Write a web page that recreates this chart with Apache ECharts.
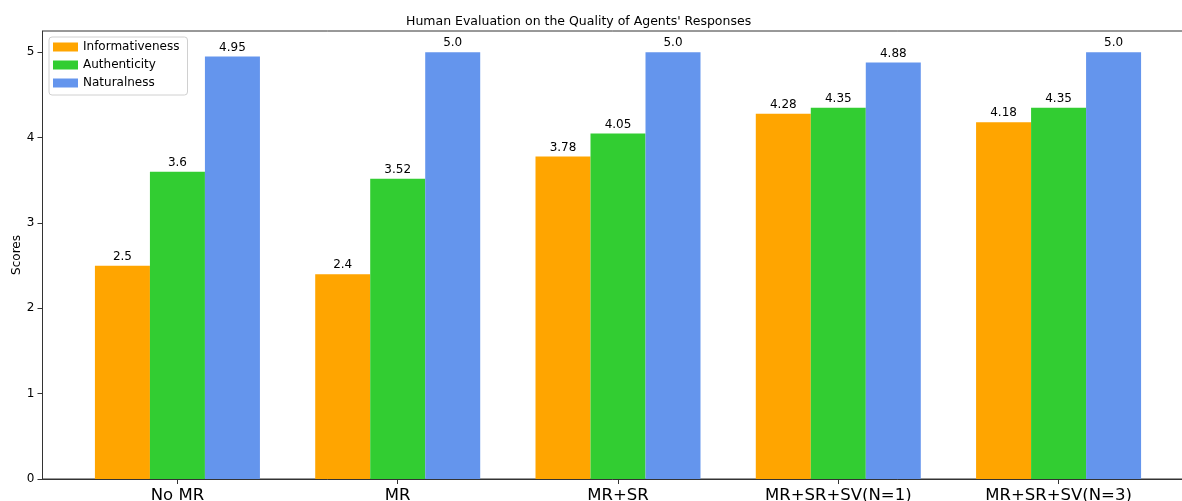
<!DOCTYPE html>
<html>
<head>
<meta charset="utf-8">
<script src="https://cdn.jsdelivr.net/npm/echarts@6/dist/echarts.min.js"></script>
<style>
  html, body { margin: 0; padding: 0; background: #fff; }
  #main { width: 1182px; height: 501px; }
</style>
</head>
<body>
<div id="main"></div>
<script>
// data
var categories = ['No MR', 'MR', 'MR+SR', 'MR+SR+SV(N=1)', 'MR+SR+SV(N=3)'];
var informativeness = [2.5, 2.4, 3.78, 4.28, 4.18];
var authenticity = [3.6, 3.52, 4.05, 4.35, 4.35];
var naturalness = [4.95, 5.0, 5.0, 4.88, 5.0];
var yTicks = [0, 1, 2, 3, 4, 5];

var chart = echarts.init(document.getElementById('main'));
var font = 'DejaVu Sans';

// python-style number print (5.0 instead of 5)
var fmt = function (v) {
  return Number.isInteger(v) ? v.toFixed(1) : String(v);
};

var makeSeries = function (name, values, color) {
  return {
    name: name,
    type: 'bar',
    barWidth: 55,
    barGap: '0%',
    itemStyle: { color: color },
    label: {
      show: true,
      position: 'top',
      distance: 3,
      color: '#000',
      fontFamily: font,
      fontSize: 12,
      formatter: function (p) { return fmt(p.value[1]); }
    },
    data: values.map(function (v, i) { return [i, v]; })
  };
};

var option = {
  backgroundColor: '#fff',
  animation: false,
  title: {
    text: "Human Evaluation on the Quality of Agents' Responses",
    left: 401,
    top: 10,
    textStyle: { fontFamily: font, fontSize: 12.5, fontWeight: 'normal', color: '#000' }
  },
  legend: {
    orient: 'vertical',
    left: 49,
    top: 37,
    itemWidth: 25,
    itemHeight: 9,
    itemGap: 6,
    padding: [4, 8, 6, 4],
    borderColor: '#d0d0d0',
    borderWidth: 1,
    borderRadius: 3,
    backgroundColor: 'rgba(255,255,255,0.8)',
    icon: 'rect',
    textStyle: { fontFamily: font, fontSize: 12, color: '#000' },
    data: ['Informativeness', 'Authenticity', 'Naturalness']
  },
  grid: {
    left: 42.5,
    top: 31,
    width: 1151,
    bottom: 22,
    show: true,
    borderColor: '#333',
    borderWidth: 1,
    containLabel: false,
    outerBoundsMode: 'none'
  },
  xAxis: {
    type: 'value',
    min: -0.6125,
    max: 4.6125,
    splitLine: { show: false },
    axisLine: { show: true, onZero: false, lineStyle: { color: '#333', width: 1 } },
    axisTick: { show: true, length: 5, customValues: [0, 1, 2, 3, 4], lineStyle: { color: '#333' } },
    axisLabel: {
      show: true,
      customValues: [0, 1, 2, 3, 4],
      margin: 8,
      fontFamily: font,
      fontSize: 16.5,
      color: '#000',
      formatter: function (v) { return categories[Math.round(v)]; }
    }
  },
  yAxis: {
    type: 'value',
    min: 0,
    max: 5.25,
    name: 'Scores',
    nameLocation: 'middle',
    nameRotate: 90,
    nameGap: 20,
    nameMoveOverlap: false,
    nameTextStyle: { fontFamily: font, fontSize: 12, color: '#000' },
    splitLine: { show: false },
    axisLine: { show: true, onZero: false, lineStyle: { color: '#333', width: 1 } },
    axisTick: { show: true, length: 5, customValues: yTicks, lineStyle: { color: '#333' } },
    axisLabel: {
      customValues: yTicks,
      margin: 8,
      fontFamily: font,
      fontSize: 12,
      color: '#000'
    }
  },
  series: [
    makeSeries('Informativeness', informativeness, '#FFA500'),
    makeSeries('Authenticity', authenticity, '#32CD32'),
    makeSeries('Naturalness', naturalness, '#6495ED')
  ]
};

chart.setOption(option);
</script>
</body>
</html>
